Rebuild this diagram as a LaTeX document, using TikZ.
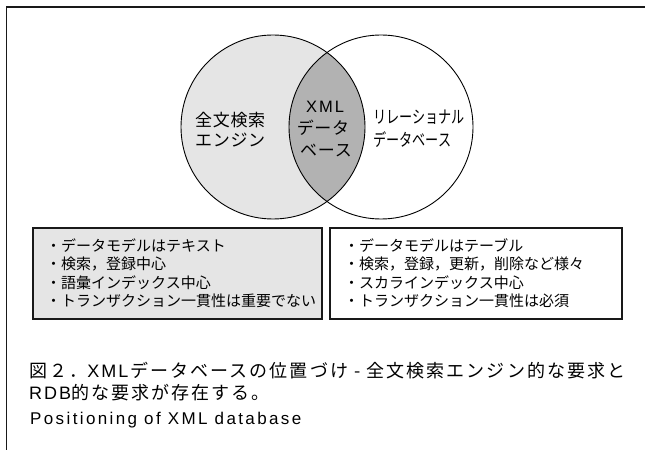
\documentclass[tikz,border=0pt]{standalone}
\usepackage{fontspec}
\setmainfont{Noto Sans CJK JP}
\newfontfamily\jpcap[LetterSpace=11.5]{Noto Sans CJK JP}
\newfontfamily\jpcirc[LetterSpace=4]{Noto Sans CJK JP}
\newfontfamily\latcap[LetterSpace=14]{Liberation Sans}
\newfontfamily\latcapb[LetterSpace=11]{Liberation Sans}
\newfontfamily\latxml[LetterSpace=12]{Liberation Sans}
\definecolor{lightfill}{gray}{0.9}
\definecolor{darkfill}{gray}{0.7}
\definecolor{edge}{gray}{0.1}
\tikzset{
  frameline/.style={draw=edge, line width=1.2bp},
  venn/.style={circle, draw=black, line width=0.9bp, minimum size=184bp, inner sep=0pt},
  infobox/.style={rectangle, draw=edge, line width=1.3bp, minimum height=91bp, inner sep=0pt},
  txt/.style={inner sep=0pt, anchor=base west},
  ctxt/.style={inner sep=0pt, anchor=base},
  circfont/.style={font=\fontsize{17bp}{20bp}\selectfont\jpcirc},
  rcircfont/.style={font=\fontsize{17.5bp}{20bp}\selectfont, xscale=0.75},
  boxfont/.style={font=\fontsize{15bp}{18bp}\selectfont},
  capfont/.style={font=\fontsize{18bp}{20bp}\selectfont\jpcap},
}
\begin{document}
\begin{tikzpicture}[x=1bp,y=-1bp]
\useasboundingbox (0,0) rectangle (645,450);
% outer frame
\coordinate (fbl) at (6.5,450);
\coordinate (ftl) at (6.5,7);
\coordinate (ftr) at (645,7);
\draw[frameline] (fbl) -- (ftl) -- (ftr);
% venn fills
\fill[lightfill] (273,127) circle[radius=92bp];
\begin{scope}
  \clip (273,127) circle[radius=92bp];
  \fill[darkfill] (381,127) circle[radius=92bp];
\end{scope}
\node[venn] (lc) at (273,127) {};
\node[venn] (rc) at (381,127) {};
% circle texts
\node[txt, circfont] (l1) at (195,126.5) {全文検索};
\node[txt, circfont] (l2) at (195,147) {エンジン};
\node[ctxt, font=\fontsize{16.5bp}{20bp}\selectfont\latxml] (x1) at (325,113) {XML};
\node[ctxt, circfont] (x2) at (323,134.5) {データ};
\node[ctxt, circfont] (x3) at (326,156.5) {ベース};
\node[txt, rcircfont] (r1) at (373,124) {リレーショナル};
\node[txt, rcircfont] (r2) at (373,147) {データベース};
% boxes
\node[infobox, fill=lightfill, minimum width=289bp] (lbox) at (177.5,273.5) {};
\node[infobox, fill=white, minimum width=292bp] (rbox) at (476,273.5) {};
\node[txt, boxfont] (lb1) at (46,251.5) {・データモデルはテキスト};
\node[txt, boxfont] (lb2) at (46,270) {・検索，登録中心};
\node[txt, boxfont] (lb3) at (46,288.5) {・語彙インデックス中心};
\node[txt, boxfont] (lb4) at (46,307) {・トランザクション一貫性は重要でない};
\node[txt, boxfont] (rb1) at (344,251.5) {・データモデルはテーブル};
\node[txt, boxfont] (rb2) at (344,270) {・検索，登録，更新，削除など様々};
\node[txt, boxfont] (rb3) at (344,288.5) {・スカラインデックス中心};
\node[txt, boxfont] (rb4) at (344,307) {・トランザクション一貫性は必須};
% caption
\node[txt, capfont] (cap1) at (29,377) {図２．{\latcapb XML}\kern2bp データベースの位置づけ - 全文検索エンジン的な要求と};
\node[txt, capfont] (cap2) at (29,399) {{\latcapb RDB}的な要求が存在する。};
\node[txt, font=\fontsize{17bp}{20bp}\selectfont\latcap] (cap3) at (30,424) {Positioning of XML database};
\end{tikzpicture}
\end{document}
